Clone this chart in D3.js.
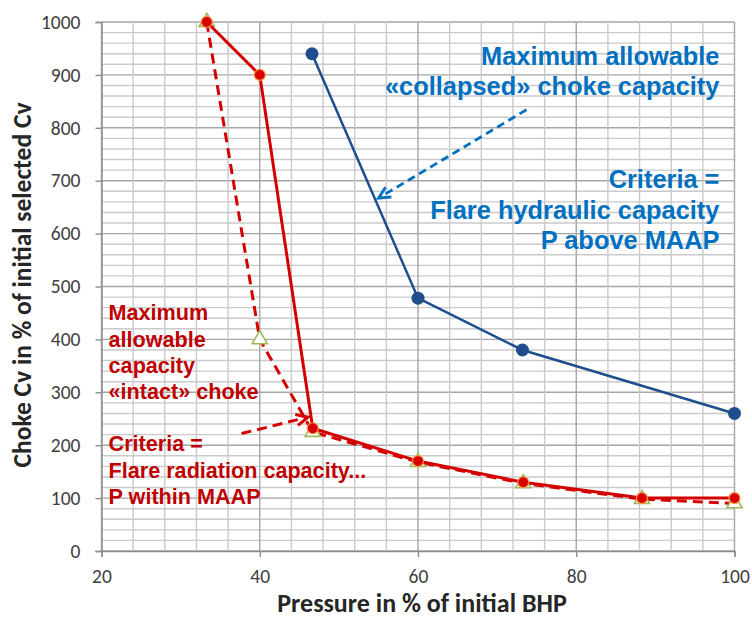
<!DOCTYPE html>
<html>
<head>
<meta charset="utf-8">
<script src="https://cdn.jsdelivr.net/npm/d3@7"></script>
<style>
  html, body { margin: 0; padding: 0; background: #fff; }
  svg { display: block; }
</style>
</head>
<body>
<svg id="chart" width="752" height="619"></svg>
<script>
// ---- Data ----
const pressure = [33.3, 40, 46.7, 60, 73.3, 88.3, 100];
const intactCv = [1000, 900, 232, 170, 130, 100, 100];
const radiationCv = [1000, 400, 225, 168, 128, 98, 90];
const collapsedP = [46.6, 60, 73.2, 100];
const collapsedCv = [940, 478, 380, 260];
const xTicks = [20, 40, 60, 80, 100];
const yTicks = [0, 100, 200, 300, 400, 500, 600, 700, 800, 900, 1000];
const xTitle = "Pressure in % of initial BHP";
const yTitle = "Choke Cv in % of initial selected Cv";
const blueLines1 = ["Maximum allowable", "«collapsed» choke capacity"];
const blueLines2 = ["Criteria =", "Flare hydraulic capacity", "P above MAAP"];
const redLines = ["Maximum", "allowable", "capacity", "«intact» choke", "", "Criteria =", "Flare radiation capacity...", "P within MAAP"];

// ---- Layout ----
const W = 752, H = 619;
const m = { left: 101.5, top: 22, right: 752 - 734.5, bottom: 619 - 551 };
const iw = W - m.left - m.right, ih = H - m.top - m.bottom;

const svg = d3.select("#chart");
const g = svg.append("g").attr("transform", `translate(${m.left},${m.top})`);

const x = d3.scaleLinear().domain([20, 100]).range([0, iw]);
const y = d3.scaleLinear().domain([0, 1000]).range([ih, 0]);

// gridlines
const vGrid = d3.range(20, 100.001, 4);
const hGrid = d3.range(0, 1000.001, 20);
g.append("g").selectAll("line").data(hGrid).join("line")
  .attr("x1", 0).attr("x2", iw)
  .attr("y1", d => y(d)).attr("y2", d => y(d))
  .attr("stroke", d => d % 100 === 0 ? "#a6a6a6" : "#cacaca")
  .attr("stroke-width", 1.4);
g.append("g").selectAll("line").data(vGrid).join("line")
  .attr("y1", 0).attr("y2", ih)
  .attr("x1", d => x(d)).attr("x2", d => x(d))
  .attr("stroke", d => Math.abs(d % 20) < 1e-6 ? "#a6a6a6" : "#cacaca")
  .attr("stroke-width", 1.4);

// axes
const tickFont = "Carlito, Lato, 'Liberation Sans', sans-serif";
const xAxis = g.append("g").attr("transform", `translate(0,${ih})`)
  .call(d3.axisBottom(x).tickValues(xTicks).tickSize(6).tickFormat(d3.format("d")));
const yAxis = g.append("g")
  .call(d3.axisLeft(y).tickValues(yTicks).tickSize(6).tickPadding(15).tickFormat(d3.format("d")));
[xAxis, yAxis].forEach(a => {
  a.select(".domain").attr("stroke", "#8c8c8c").attr("stroke-width", 1.4);
  a.selectAll(".tick line").attr("stroke", "#8c8c8c").attr("stroke-width", 1.4);
  a.selectAll(".tick text").attr("fill", "#404040").style("font-family", tickFont).style("font-size", "19.5px");
});
xAxis.selectAll(".tick text").attr("y", 32).attr("dy", "0");

// axis titles
svg.append("text")
  .attr("x", 422).attr("y", 612)
  .attr("text-anchor", "middle")
  .style("font-family", tickFont).style("font-weight", "bold").style("font-size", "26px")
  .attr("fill", "#262626")
  .text(xTitle);
svg.append("text")
  .attr("transform", `translate(31,285) rotate(-90)`)
  .attr("text-anchor", "middle")
  .style("font-family", tickFont).style("font-weight", "bold").style("font-size", "25.5px")
  .attr("fill", "#262626")
  .text(yTitle);

// ---- Series ----
const radData = pressure.map((p, i) => [p, radiationCv[i]]);
const intData = pressure.map((p, i) => [p, intactCv[i]]);
const colData = collapsedP.map((p, i) => [p, collapsedCv[i]]);
const line = d3.line().x(d => x(d[0])).y(d => y(d[1]));

g.append("path").datum(radData).attr("d", line)
  .attr("fill", "none").attr("stroke", "#d40000").attr("stroke-width", 3)
  .attr("stroke-dasharray", "10,6");
const tri = d3.symbol().type(d3.symbolTriangle).size(100);
g.append("g").selectAll("path").data(radData).join("path")
  .attr("d", tri)
  .attr("transform", d => `translate(${x(d[0])},${y(d[1])})`)
  .attr("fill", "#ffffff").attr("stroke", "#9bbb59").attr("stroke-width", 1.6);

g.append("path").datum(intData).attr("d", line)
  .attr("fill", "none").attr("stroke", "#d40000").attr("stroke-width", 3);
g.append("g").selectAll("circle").data(intData).join("circle")
  .attr("cx", d => x(d[0])).attr("cy", d => y(d[1])).attr("r", 5.5)
  .attr("fill", "#d90000").attr("stroke", "#f79646").attr("stroke-width", 1.2);

g.append("path").datum(colData).attr("d", line)
  .attr("fill", "none").attr("stroke", "#1f4e8c").attr("stroke-width", 2.5);
g.append("g").selectAll("circle").data(colData).join("circle")
  .attr("cx", d => x(d[0])).attr("cy", d => y(d[1])).attr("r", 6.5)
  .attr("fill", "#1f4e8c");

// ---- Annotations ----
const annFont = "'Liberation Sans', Arial, sans-serif";
function block(lines, xd, yd, anchor, color, size, lh) {
  const t = g.append("text")
    .attr("text-anchor", anchor)
    .style("font-family", annFont).style("font-weight", "bold").style("font-size", size + "px")
    .attr("fill", color);
  lines.forEach((l, i) => {
    t.append("tspan").attr("x", x(xd)).attr("y", y(yd) + i * lh).text(l);
  });
}
block(blueLines1, 98.1, 918, "end", "#0070c0", 25.4, 29.5);
block(blueLines2, 98.1, 686, "end", "#0070c0", 25.4, 30.5);
block(redLines, 20.9, 436, "start", "#c00000", 21.6, 26.2);

// arrows
function arrow(x1, y1, x2, y2, color, w, dash) {
  const X1 = x(x1), Y1 = y(y1), X2 = x(x2), Y2 = y(y2);
  g.append("line").attr("x1", X1).attr("y1", Y1).attr("x2", X2).attr("y2", Y2)
    .attr("stroke", color).attr("stroke-width", w).attr("stroke-dasharray", dash);
  const ang = Math.atan2(Y2 - Y1, X2 - X1), L = 13, a = 0.45;
  const p = [[X2 - L * Math.cos(ang - a), Y2 - L * Math.sin(ang - a)], [X2, Y2], [X2 - L * Math.cos(ang + a), Y2 - L * Math.sin(ang + a)]];
  g.append("path").attr("d", d3.line()(p)).attr("fill", "none")
    .attr("stroke", color).attr("stroke-width", w).attr("stroke-linejoin", "miter");
}
arrow(73.7, 834, 55.0, 667, "#0070c0", 2.8, "8,5");
arrow(37.7, 222, 46.1, 253, "#d40000", 3, "10,6");
</script>
</body>
</html>
